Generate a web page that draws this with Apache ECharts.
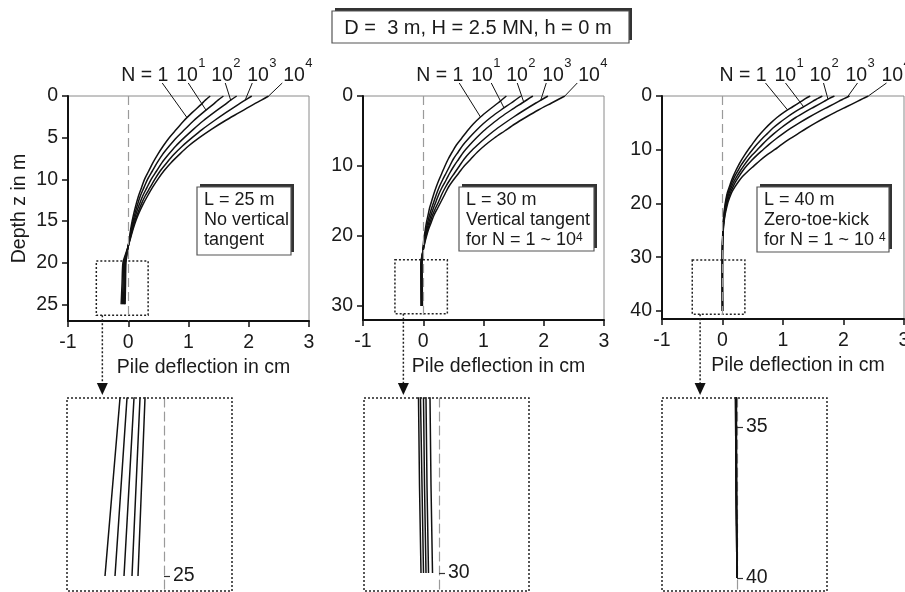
<!DOCTYPE html>
<html>
<head>
<meta charset="utf-8">
<script src="https://cdn.jsdelivr.net/npm/echarts@6/dist/echarts.min.js"></script>
<style>
html,body{margin:0;padding:0;background:#fff}
#c{width:905px;height:592px}
</style>
</head>
<body>
<div id="c"></div>
<script>
const FONT = '"Liberation Sans", Arial, Helvetica, sans-serif';

// Load-cycle number of each deflection curve
const cycleNames = ['N = 1', 'N = 10^1', 'N = 10^2', 'N = 10^3', 'N = 10^4'];
const cycleLabelBase = ['N = 1', '10', '10', '10', '10'];
const cycleLabelExp = ['', '1', '2', '3', '4'];

const headerText = 'D =  3 m, H = 2.5 MN, h = 0 m';
const xTicks = [-1, 0, 1, 2, 3];

// Pile L = 25 m: depth (m) and deflection (cm) for N = 1, 10, 100, 1000, 10000
const depth25 = [0, 0.5, 1, 2, 3, 4, 5, 6, 7, 8, 9, 10, 11, 12, 13, 14, 15, 16, 17, 18, 19, 20, 22.5, 25];
const defl25 = [
  [1.36, 1.28, 1.21, 1.06, 0.92, 0.80, 0.68, 0.58, 0.49, 0.41, 0.34, 0.27, 0.22, 0.17, 0.13, 0.095, 0.065, 0.04, 0.02, 0.0, -0.02, -0.038, -0.045, -0.052],
  [1.58, 1.49, 1.41, 1.24, 1.08, 0.94, 0.80, 0.68, 0.57, 0.48, 0.40, 0.32, 0.26, 0.20, 0.155, 0.115, 0.08, 0.05, 0.025, 0.0, -0.025, -0.048, -0.056, -0.064],
  [1.80, 1.70, 1.61, 1.42, 1.24, 1.08, 0.93, 0.79, 0.67, 0.56, 0.47, 0.38, 0.31, 0.24, 0.185, 0.135, 0.095, 0.06, 0.03, 0.0, -0.03, -0.06, -0.07, -0.08],
  [2.05, 1.94, 1.83, 1.62, 1.42, 1.23, 1.06, 0.90, 0.76, 0.64, 0.53, 0.44, 0.36, 0.28, 0.215, 0.16, 0.11, 0.07, 0.035, 0.0, -0.037, -0.074, -0.086, -0.098],
  [2.33, 2.21, 2.08, 1.84, 1.60, 1.38, 1.18, 1.00, 0.85, 0.71, 0.59, 0.49, 0.40, 0.32, 0.245, 0.18, 0.125, 0.08, 0.04, 0.0, -0.045, -0.088, -0.103, -0.118]
];
const yTicks25 = [0, 5, 10, 15, 20, 25];
const detailTicks25 = [25];
const note25 = ['L = 25 m', 'No vertical', 'tangent'];

// Pile L = 30 m
const depth30 = [0, 0.5, 1, 2, 3, 4, 5, 6, 7, 8, 9, 10, 11, 12, 13, 14, 15, 16, 17, 18, 19, 20, 21, 22, 24, 27, 30];
const defl30 = [
  [1.38, 1.31, 1.24, 1.09, 0.95, 0.83, 0.73, 0.64, 0.55, 0.48, 0.415, 0.36, 0.31, 0.26, 0.215, 0.175, 0.14, 0.105, 0.08, 0.055, 0.035, 0.017, 0.003, -0.007, -0.018, -0.016, -0.013],
  [1.62, 1.54, 1.46, 1.29, 1.13, 0.99, 0.87, 0.76, 0.66, 0.58, 0.50, 0.44, 0.38, 0.32, 0.265, 0.22, 0.18, 0.14, 0.105, 0.075, 0.05, 0.028, 0.01, -0.003, -0.026, -0.024, -0.021],
  [1.82, 1.73, 1.64, 1.46, 1.29, 1.14, 1.00, 0.88, 0.77, 0.67, 0.59, 0.51, 0.44, 0.38, 0.315, 0.26, 0.215, 0.17, 0.13, 0.095, 0.063, 0.038, 0.016, 0.0, -0.031, -0.029, -0.026],
  [2.07, 1.97, 1.87, 1.68, 1.50, 1.33, 1.17, 1.03, 0.90, 0.78, 0.68, 0.60, 0.52, 0.44, 0.37, 0.31, 0.26, 0.205, 0.155, 0.115, 0.078, 0.045, 0.02, -0.002, -0.037, -0.034, -0.031],
  [2.35, 2.24, 2.13, 1.91, 1.71, 1.52, 1.35, 1.18, 1.03, 0.90, 0.79, 0.68, 0.59, 0.50, 0.42, 0.36, 0.30, 0.24, 0.18, 0.135, 0.09, 0.055, 0.025, 0.0, -0.041, -0.039, -0.036]
];
const yTicks30 = [0, 10, 20, 30];
const detailTicks30 = [30];
const note30 = ['L = 30 m', 'Vertical tangent', 'for N = 1 ~ 10{s|4}'];

// Pile L = 40 m
const depth40 = [0, 0.5, 1, 2, 3, 4, 5, 6, 7, 8, 9, 10, 11, 12, 13, 14, 15, 16, 17, 18, 19, 20, 22, 24, 26, 28, 30, 34, 37, 40];
const defl40 = [
  [1.45, 1.37, 1.30, 1.16, 1.02, 0.90, 0.80, 0.71, 0.63, 0.555, 0.49, 0.425, 0.365, 0.31, 0.26, 0.215, 0.175, 0.14, 0.11, 0.08, 0.06, 0.045, 0.022, 0.01, 0.003, 0.0, -0.001, -0.001, -0.001, 0.0],
  [1.65, 1.57, 1.49, 1.34, 1.19, 1.06, 0.94, 0.83, 0.74, 0.65, 0.57, 0.495, 0.425, 0.36, 0.30, 0.25, 0.20, 0.16, 0.125, 0.095, 0.07, 0.052, 0.027, 0.012, 0.004, 0.0, -0.001, -0.002, -0.001, 0.0],
  [1.85, 1.76, 1.68, 1.52, 1.36, 1.21, 1.08, 0.96, 0.85, 0.75, 0.66, 0.575, 0.49, 0.415, 0.35, 0.29, 0.235, 0.185, 0.145, 0.11, 0.082, 0.062, 0.032, 0.014, 0.005, 0.0, -0.002, -0.002, -0.001, 0.0],
  [2.10, 2.01, 1.92, 1.75, 1.58, 1.42, 1.27, 1.13, 1.00, 0.88, 0.77, 0.67, 0.57, 0.48, 0.40, 0.33, 0.27, 0.215, 0.17, 0.13, 0.098, 0.072, 0.038, 0.017, 0.006, 0.0, -0.002, -0.003, -0.002, 0.0],
  [2.41, 2.32, 2.23, 2.05, 1.87, 1.70, 1.54, 1.39, 1.25, 1.11, 0.98, 0.86, 0.73, 0.62, 0.52, 0.42, 0.33, 0.26, 0.20, 0.15, 0.115, 0.085, 0.045, 0.02, 0.008, 0.0, -0.003, -0.003, -0.002, 0.0]
];
const yTicks40 = [0, 10, 20, 30, 40];
const detailTicks40 = [35, 40];
const note40 = ['L = 40 m', 'Zero-toe-kick', 'for N = 1 ~ 10 {s|4}'];

// Layout of the three panels and of their enlarged toe views
const panels = [
  { depth: depth25, defl: defl25, yMax: 27, yTicks: yTicks25, note: note25,
    grid: { left: 68, top: 96, width: 241, height: 225 },
    box: { x: [-0.53, 0.33], z: [19.8, 26.3] }, arrowX: -0.43,
    detail: { left: 67, top: 398, width: 165, height: 193, xMin: -0.194, xMax: 0.136, zMin: 20, zMax: 25.42, ticks: detailTicks25 },
    noteBox: { x: 197, y: 187, w: 94, h: 68 },
    shift: 0, leadStart: [34, 60, 97, 124, 154], leadDepth: [2.6, 1.7, 0.5, 0.5, 0], showName: true },
  { depth: depth30, defl: defl30, yMax: 32, yTicks: yTicks30, note: note30,
    grid: { left: 363, top: 96, width: 241, height: 224 },
    box: { x: [-0.47, 0.4], z: [23.4, 31.1] }, arrowX: -0.33,
    detail: { left: 364, top: 398, width: 165, height: 193, xMin: -0.15, xMax: 0.18, zMin: 24, zMax: 30.62, ticks: detailTicks30 },
    noteBox: { x: 459, y: 187, w: 135, h: 64 },
    shift: 0, leadStart: [36, 68, 94, 123, 154], leadDepth: [3, 1.7, 0.85, 0.6, 0], showName: false },
  { depth: depth40, defl: defl40, yMax: 41.5, yTicks: yTicks40, note: note40,
    grid: { left: 662, top: 96, width: 242, height: 223 },
    box: { x: [-0.5, 0.37], z: [30.5, 40.6] }, arrowX: -0.37,
    detail: { left: 662, top: 398, width: 165, height: 193, xMin: -0.15, xMax: 0.18, zMin: 34.04, zMax: 40.43, ticks: detailTicks40 },
    noteBox: { x: 757, y: 187, w: 132, h: 65 },
    shift: 4, leadStart: [43, 63, 101, 135, 164], leadDepth: [2.6, 2, 0.6, 0.2, 0], showName: false }
];
const labelOffsets = [-7, 48, 83, 119, 155];

const INK = '#111';
const GREY_DASH = '#9a9a9a';
const textBase = { fontFamily: FONT, fontSize: 19.5, color: '#1a1a1a' };

const grids = [], xAxes = [], yAxes = [], series = [];

panels.forEach((p, pi) => {
  grids.push(Object.assign({ show: true, borderColor: '#8a8a8a', borderWidth: 1, containLabel: false, outerBoundsMode: 'none' }, p.grid));
  xAxes.push({
    gridIndex: pi, type: 'value', min: -1, max: 3, interval: 1, position: 'bottom',
    name: 'Pile deflection in cm', nameLocation: 'middle', nameGap: 37,
    nameTextStyle: Object.assign({}, textBase, { fontSize: 19.5, padding: [0, 0, 0, 30] }),
    axisLine: { show: true, onZero: false, lineStyle: { color: INK, width: 2 } },
    axisTick: { show: true, length: 6, customValues: xTicks, lineStyle: { color: INK, width: 1.5 } },
    axisLabel: Object.assign({ margin: 12, customValues: xTicks }, textBase),
    splitLine: { show: false }
  });
  yAxes.push({
    gridIndex: pi, type: 'value', inverse: true, min: 0, max: p.yMax, position: 'left',
    name: p.showName ? 'Depth z in m' : '', nameLocation: 'middle', nameGap: 38,
    nameTextStyle: Object.assign({}, textBase, { fontSize: 19.5 }),
    axisLine: { show: true, onZero: false, lineStyle: { color: INK, width: 2 } },
    axisTick: { show: true, length: 6, customValues: p.yTicks, lineStyle: { color: INK, width: 1.5 } },
    axisLabel: Object.assign({ margin: 10, customValues: p.yTicks }, textBase),
    splitLine: { show: false }
  });
});

panels.forEach((p, pi) => {
  const d = p.detail;
  const gi = pi + 3;
  grids.push({ left: d.left, top: d.top, width: d.width, height: d.height, show: false, containLabel: false, outerBoundsMode: 'none' });
  xAxes.push({ gridIndex: gi, type: 'value', min: d.xMin, max: d.xMax, show: false });
  const zeroOffset = (0 - d.xMin) / (d.xMax - d.xMin) * d.width;
  yAxes.push({
    gridIndex: gi, type: 'value', inverse: true, min: d.zMin, max: d.zMax, position: 'left', offset: -zeroOffset,
    axisLine: { show: true, onZero: false, lineStyle: { color: GREY_DASH, width: 1.2, type: [9, 5] } },
    axisTick: { show: true, inside: true, length: 6, customValues: d.ticks, lineStyle: { color: '#333', width: 1.2 } },
    axisLabel: Object.assign({ inside: true, margin: 9, customValues: d.ticks }, textBase),
    splitLine: { show: false }
  });
});

function curveData(p, i) {
  return p.depth.map((z, k) => [p.defl[i][k], z]);
}

panels.forEach((p, pi) => {
  p.defl.forEach((row, i) => {
    const s = {
      type: 'line', name: cycleNames[i], xAxisIndex: pi, yAxisIndex: pi,
      data: curveData(p, i), showSymbol: false, symbol: 'none', smooth: 0.3,
      lineStyle: { color: INK, width: 1.5 }, z: 3, silent: true
    };
    if (i === 0) {
      s.markLine = {
        silent: true, symbol: ['none', 'none'], label: { show: false },
        lineStyle: { color: GREY_DASH, width: 1.2, type: [9, 5] },
        data: [{ xAxis: 0 }]
      };
      s.markArea = {
        silent: true, label: { show: false },
        itemStyle: { color: 'rgba(0,0,0,0)', borderColor: '#222', borderWidth: 1.5, borderType: [2, 2] },
        data: [[{ xAxis: p.box.x[0], yAxis: p.box.z[0] }, { xAxis: p.box.x[1], yAxis: p.box.z[1] }]]
      };
    }
    series.push(s);
    // the same curve seen through the enlarged toe window
    series.push({
      type: 'line', name: cycleNames[i] + ' (toe)', xAxisIndex: pi + 3, yAxisIndex: pi + 3,
      data: curveData(p, i), showSymbol: false, symbol: 'none', smooth: false, clip: true,
      lineStyle: { color: INK, width: 1.5 }, z: 3, silent: true
    });
  });
});

const chart = echarts.init(document.getElementById('c'), null, { renderer: 'canvas' });
chart.setOption({
  animation: false,
  backgroundColor: '#fff',
  textStyle: { fontFamily: FONT },
  grid: grids, xAxis: xAxes, yAxis: yAxes, series: series
});

function valueAt(depths, vals, z) {
  for (let k = 0; k < depths.length - 1; k++) {
    if (z >= depths[k] && z <= depths[k + 1]) {
      const t = (z - depths[k]) / (depths[k + 1] - depths[k]);
      return vals[k] + t * (vals[k + 1] - vals[k]);
    }
  }
  return vals[vals.length - 1];
}

function shadowBox(x, y, w, h) {
  return [
    { type: 'rect', shape: { x: x + 3, y: y - 3, width: w, height: h }, style: { fill: '#333' }, z: 10 },
    { type: 'rect', shape: { x: x, y: y, width: w, height: h }, style: { fill: '#fff', stroke: '#555', lineWidth: 1.2 }, z: 11 }
  ];
}

const gfx = [];

// Header with loading parameters
gfx.push(...shadowBox(332, 11, 297, 32));
gfx.push({ type: 'text', x: 478, y: 28, z: 12,
  style: { text: headerText, font: '20px ' + FONT, fill: '#1a1a1a', textAlign: 'center', textVerticalAlign: 'middle' } });

panels.forEach((p, pi) => {
  const x0 = chart.convertToPixel({ gridIndex: pi }, [0, 0])[0];

  // cycle labels with leader lines to the curves
  cycleLabelBase.forEach((t, i) => {
    const lx = x0 + labelOffsets[i] + p.shift;
    gfx.push({ type: 'text', x: lx, y: 76, z: 12,
      style: { text: t, font: '19.5px ' + FONT, fill: '#1a1a1a', textAlign: 'left', textVerticalAlign: 'middle' } });
    if (cycleLabelExp[i]) {
      gfx.push({ type: 'text', x: lx + 22, y: 63, z: 12,
        style: { text: cycleLabelExp[i], font: '13px ' + FONT, fill: '#1a1a1a', textAlign: 'left', textVerticalAlign: 'middle' } });
    }
    const zEnd = p.leadDepth[i];
    const end = chart.convertToPixel({ gridIndex: pi }, [valueAt(p.depth, p.defl[i], zEnd), zEnd]);
    gfx.push({ type: 'line', z: 12,
      shape: { x1: x0 + p.leadStart[i], y1: 83, x2: end[0], y2: end[1] },
      style: { stroke: INK, lineWidth: 1 } });
  });

  // annotation box
  const nb = p.noteBox;
  gfx.push(...shadowBox(nb.x, nb.y, nb.w, nb.h));
  p.note.forEach((line, li) => {
    gfx.push({ type: 'text', x: nb.x + 7, y: nb.y + 13.5 + li * 20, z: 12,
      style: { text: line, font: '18px ' + FONT, fill: '#1a1a1a', textAlign: 'left', textVerticalAlign: 'middle',
        rich: { s: { fontSize: 12, fontFamily: FONT, fill: '#1a1a1a', verticalAlign: 'top' } } } });
  });

  // enlarged toe view frame and the arrow leading to it
  const d = p.detail;
  gfx.push({ type: 'rect', z: 9, shape: { x: d.left, y: d.top, width: d.width, height: d.height },
    style: { fill: null, stroke: '#222', lineWidth: 1.5, lineDash: [2, 2] } });
  const start = chart.convertToPixel({ gridIndex: pi }, [p.arrowX, p.box.z[1]]);
  const tipY = d.top - 3;
  gfx.push({ type: 'line', z: 9, shape: { x1: start[0], y1: start[1], x2: start[0], y2: tipY - 11 },
    style: { stroke: '#222', lineWidth: 1.5, lineDash: [2, 2] } });
  gfx.push({ type: 'polygon', z: 9, shape: { points: [[start[0] - 5.5, tipY - 12], [start[0] + 5.5, tipY - 12], [start[0], tipY]] },
    style: { fill: '#111' } });
});

chart.setOption({ graphic: gfx });
</script>
</body>
</html>
